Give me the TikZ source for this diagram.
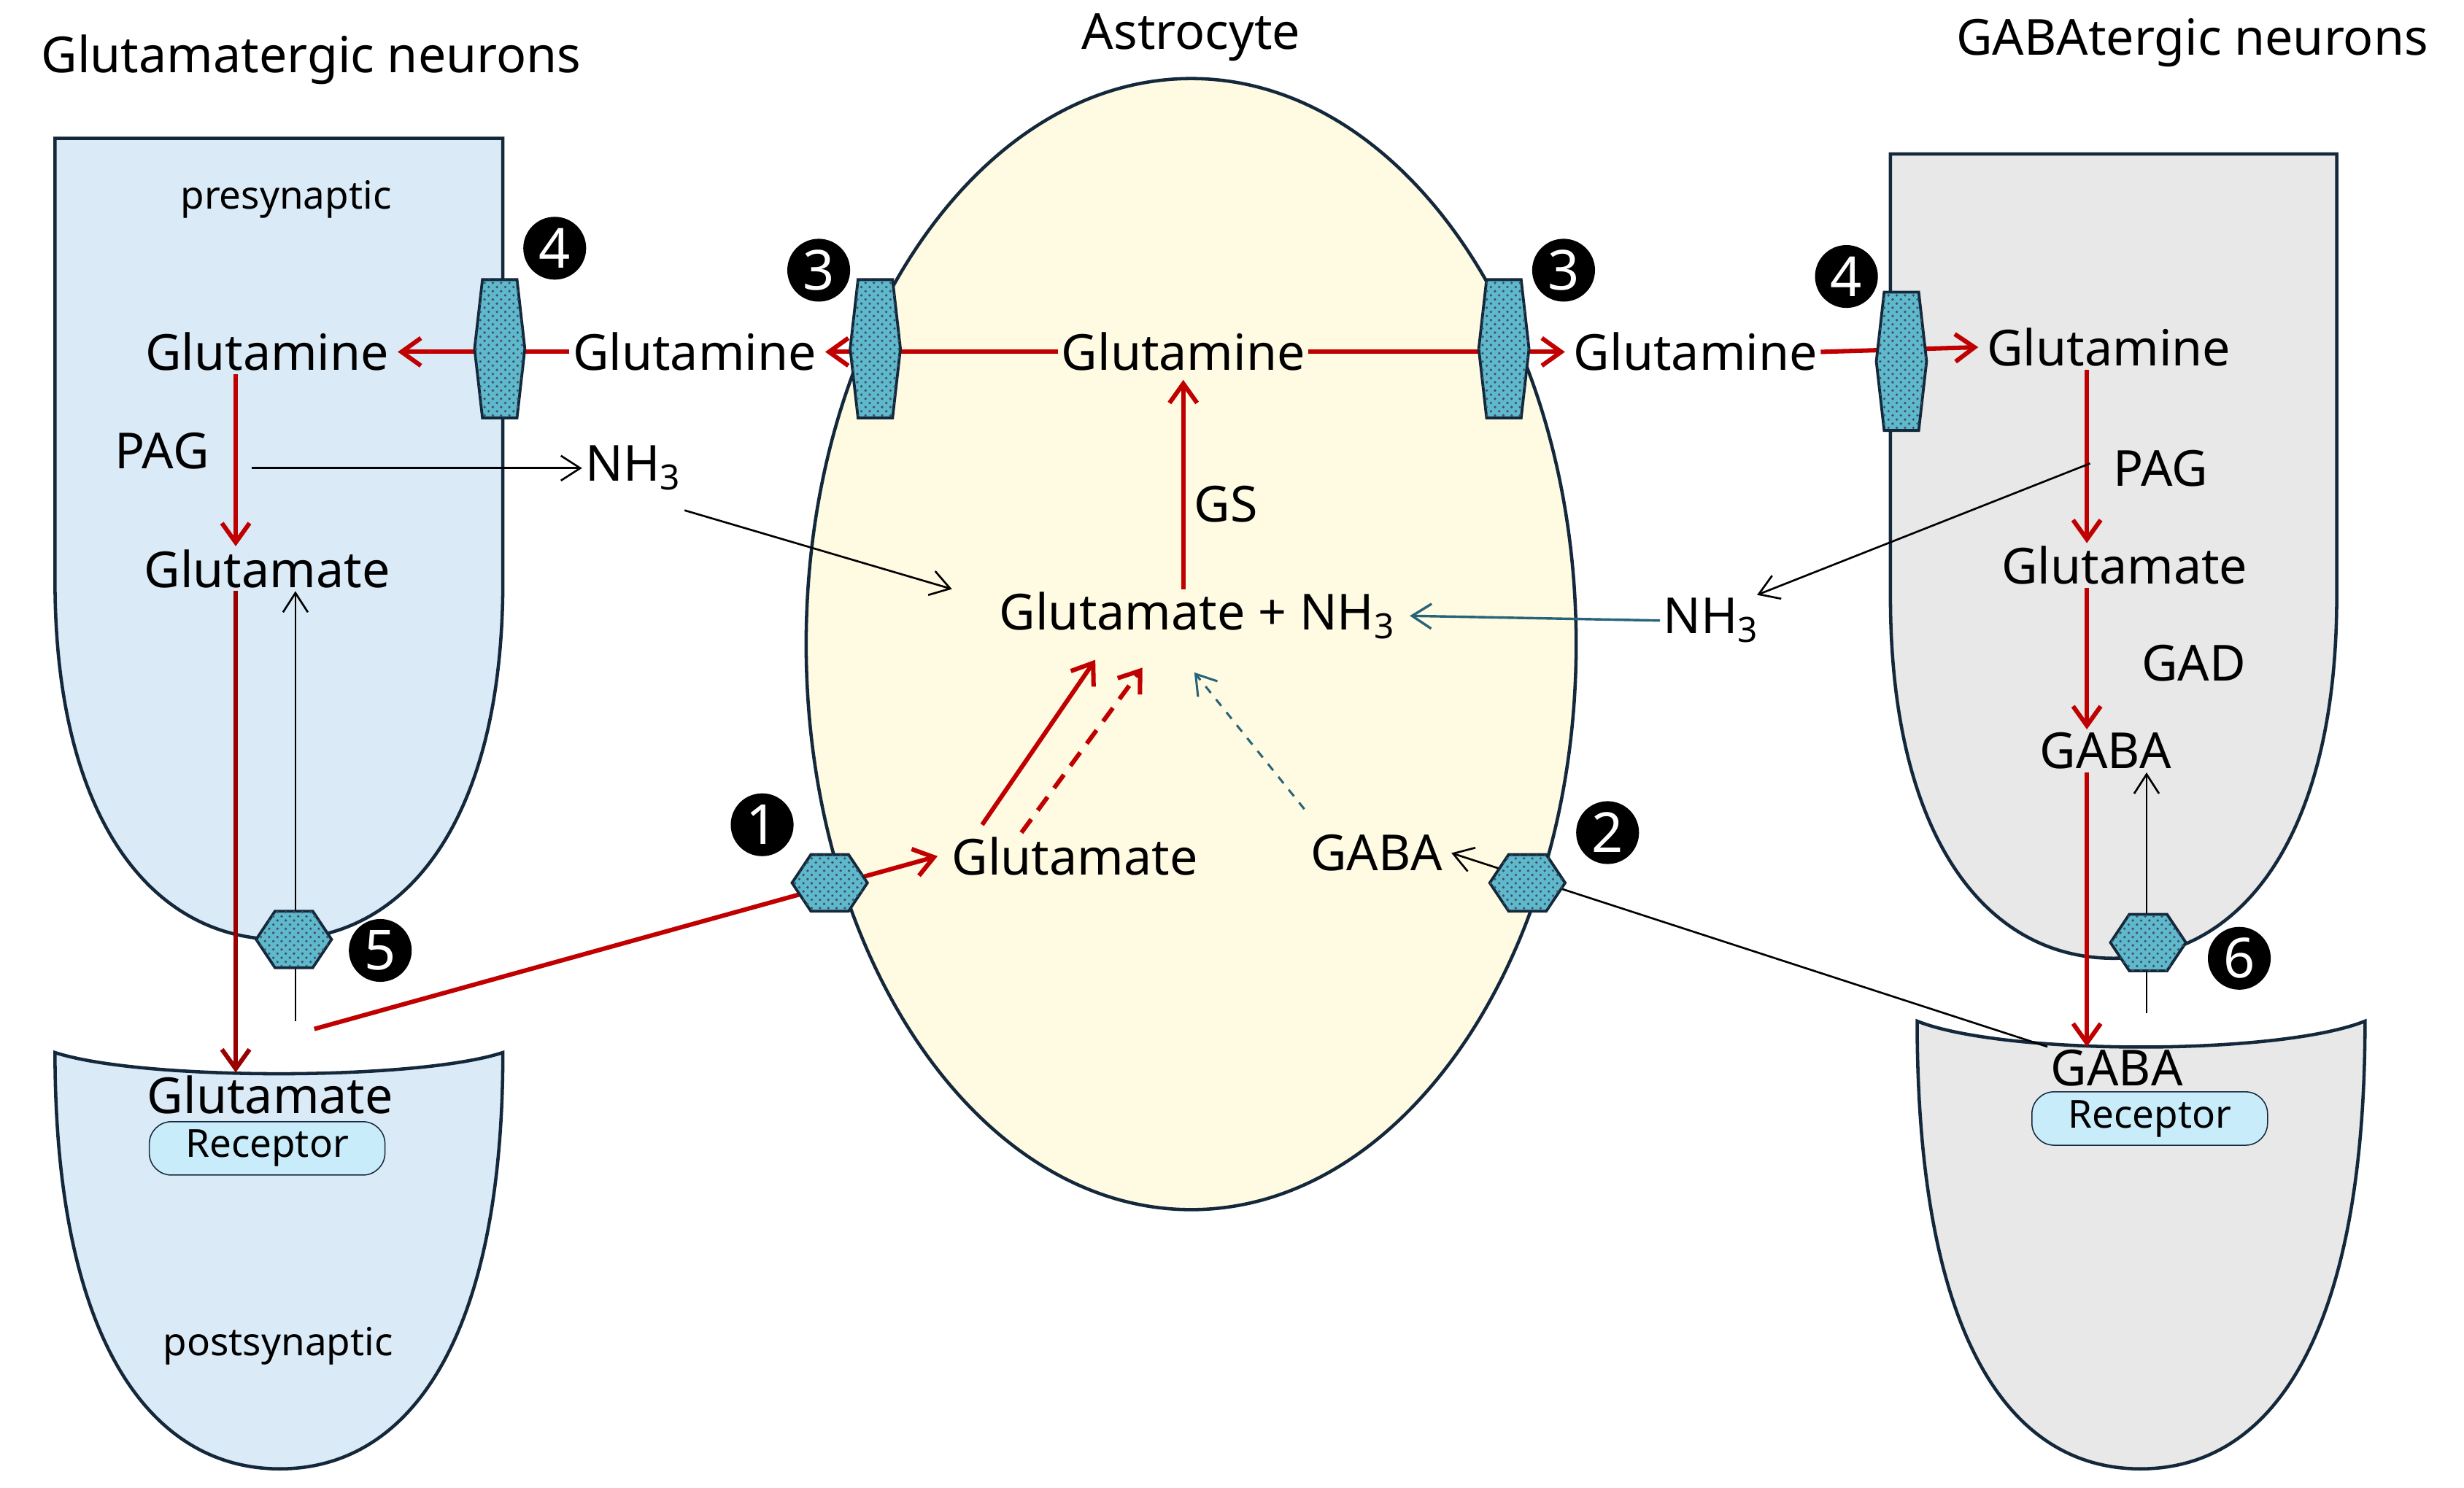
\documentclass[tikz,border=0pt]{standalone}
\usepackage{fontspec}
\setmainfont{Noto Sans}
\usetikzlibrary{arrows.meta,patterns}
\definecolor{arrred}{RGB}{192,0,0}
\definecolor{outl}{RGB}{20,40,60}
\definecolor{cellblue}{RGB}{218,234,247}
\definecolor{cellgray}{RGB}{232,232,232}
\definecolor{astro}{RGB}{255,250,226}
\definecolor{hexfill}{RGB}{95,185,205}
\definecolor{recfill}{RGB}{200,236,250}
\definecolor{tealar}{RGB}{40,100,120}
\tikzset{
  lbl/.style={font=\fontsize{18}{20}\selectfont, inner sep=1pt},
  small/.style={font=\fontsize{14}{16}\selectfont, inner sep=1pt},
  cell/.style={draw=outl, line width=1.2pt},
  red arr/.style={draw=arrred, line width=1.6pt, -{Straight Barb[length=7pt,width=10pt]}},
  thin arr/.style={draw=black, line width=0.7pt, -{Straight Barb[length=7pt,width=9pt]}},
  badge/.style={circle, fill=black, text=white, minimum size=0.8cm, inner sep=0pt, font=\fontsize{20}{20}\selectfont\bfseries},
  receptor/.style={draw=outl, fill=recfill, rounded corners=8pt, minimum width=3cm, minimum height=0.68cm, inner sep=0pt, font=\fontsize{14}{16}\selectfont},
  pics/vhex/.style={code={
    \path[draw=outl, line width=1pt, fill=hexfill] (-11,-44) -- (11,-44) -- (16,0) -- (11,44) -- (-11,44) -- (-16,0) -- cycle;
    \path[pattern=crosshatch dots, pattern color=outl!80] (-11,-44) -- (11,-44) -- (16,0) -- (11,44) -- (-11,44) -- (-16,0) -- cycle;}},
  pics/hhex/.style={code={
    \path[draw=outl, line width=1pt, fill=hexfill] (-24,0) -- (-12,-18) -- (12,-18) -- (24,0) -- (12,18) -- (-12,18) -- cycle;
    \path[pattern=crosshatch dots, pattern color=outl!80] (-24,0) -- (-12,-18) -- (12,-18) -- (24,0) -- (12,18) -- (-12,18) -- cycle;}}
}
\begin{document}
\begin{tikzpicture}[x=0.02cm,y=-0.02cm]
\useasboundingbox (0,0) rectangle (1568,947);
% cells
\draw[cell, fill=cellblue] (35,88) -- (320,88) -- (320,370) .. controls (320,520) and (260,598) .. (178,598) .. controls (96,598) and (35,520) .. (35,370) -- cycle;
\draw[cell, fill=cellblue] (35,670) .. controls (90,688) and (265,688) .. (320,670) .. controls (320,850) and (262,935) .. (178,935) .. controls (94,935) and (35,850) .. cycle;
\draw[cell, fill=cellgray] (1203,98) -- (1487,98) -- (1487,380) .. controls (1487,530) and (1428,610) .. (1345,610) .. controls (1262,610) and (1203,530) .. (1203,380) -- cycle;
\draw[cell, fill=cellgray] (1220,650) .. controls (1275,672) and (1450,672) .. (1505,650) .. controls (1505,850) and (1446,935) .. (1362,935) .. controls (1278,935) and (1220,850) .. cycle;
\draw[cell, fill=astro] (758,410) ellipse [x radius=245, y radius=360];
% titles
\node[lbl] (t1) at (198,38) {Glutamatergic neurons};
\node[lbl] (t2) at (758,24) {Astrocyte};
\node[lbl] (t3) at (1395,27) {GABAtergic neurons};
% left neuron texts
\node[small] (pre) at (182,127) {presynaptic};
\node[lbl] (lgln) at (170,224) {Glutamine};
\node[lbl] (lpag) at (103,287) {PAG};
\node[lbl] (lglu) at (170,362) {Glutamate};
\node[lbl] (lgln2) at (442,224) {Glutamine};
\node[lbl] (lnh) at (403,298) {NH\textsubscript{3}};
\node[lbl] (lsyn) at (172,697) {Glutamate};
\node[receptor] (lrec) at (170,731) {Receptor};
\node[small] (post) at (177,857) {postsynaptic};
% astrocyte texts
\node[lbl] (agln) at (753,224) {Glutamine};
\node[lbl] (gs) at (780,321) {GS};
\node[lbl] (amix) at (762,392) {Glutamate + NH\textsubscript{3}};
\node[lbl] (aglu) at (684,545) {Glutamate};
\node[lbl] (agaba) at (876,543) {GABA};
\node[lbl] (rgln2) at (1079,224) {Glutamine};
% right neuron texts
\node[lbl] (rgln) at (1342,221) {Glutamine};
\node[lbl] (rpag) at (1375,298) {PAG};
\node[lbl] (rglu) at (1352,360) {Glutamate};
\node[lbl] (gad) at (1396,422) {GAD};
\node[lbl] (rgaba) at (1340,478) {GABA};
\node[lbl] (rnh) at (1089,395) {NH\textsubscript{3}};
\node[lbl] (rsyn) at (1347,680) {GABA};
\node[receptor] (rrec) at (1368,712) {Receptor};
% arrows
\draw[red arr] (agln.west) -- ([xshift=2pt]lgln2.east);
\draw[red arr] (lgln2.west) -- ([xshift=2pt]lgln.east);
\draw[red arr] (agln.east) -- ([xshift=-2pt]rgln2.west);
\draw[red arr] (rgln2.east) -- ([xshift=-2pt]rgln.west);
\draw[red arr] (amix.north -| agln.south) -- ([yshift=-2pt]agln.south);
\coordinate (lx) at (150,0);
\draw[red arr] (lgln.south -| lx) -- (lglu.north -| lx);
\draw[red arr, draw=arrred!80!black] (lglu.south -| lx) -- (lsyn.north -| lx);
\coordinate (rx) at (1328,0);
\draw[red arr] (rgln.south -| rx) -- (rglu.north -| rx);
\draw[red arr] (rglu.south -| rx) -- (rgaba.north -| rx);
\draw[red arr] (rgaba.south -| rx) -- (rsyn.north -| rx);
\coordinate (lup0) at (188,650);
\coordinate (rup0) at (1366,645);
\draw[thin arr] (lup0) -- (lglu.south -| lup0);
\draw[thin arr] (rup0) -- (rgaba.south -| rup0);
\coordinate (pag0) at (160,298);
\draw[thin arr] (pag0) -- (pag0 -| lnh.west);
\draw[thin arr] ([yshift=-6pt]lnh.south east) -- ([xshift=-16pt]amix.north west);
\coordinate (rp0) at (1330,295);
\draw[thin arr] (rp0) -- ([xshift=-2pt]rnh.north east);
\draw[line width=0.9pt, draw=tealar, -{Straight Barb[length=7pt,width=9pt]}] (rnh.west) -- ([xshift=4pt]amix.east);
\coordinate (gout) at (200,655);
\draw[red arr] (gout) -- ([xshift=-4pt]aglu.west);
\draw[red arr] (625,525) -- (697,420);
\draw[red arr, dash pattern=on 6pt off 4pt] (650,530) -- (727,425);
\draw[line width=0.8pt, draw=tealar, dashed, -{Straight Barb[length=7pt,width=9pt]}] (830,515) -- (760,428);
\draw[thin arr] (rsyn.north west) -- ([xshift=2pt]agaba.east);
% transporters
\pic at (318,222) {vhex};
\pic at (557,222) {vhex};
\pic at (957,222) {vhex};
\pic at (1210,230) {vhex};
\pic at (528,562) {hhex};
\pic at (187,598) {hhex};
\pic at (972,562) {hhex};
\pic at (1367,600) {hhex};
% badges
\node[badge] (b4a) at (353,158) {4};
\node[badge] (b3a) at (521,172) {3};
\node[badge] (b3b) at (995,172) {3};
\node[badge] (b4b) at (1175,176) {4};
\node[badge] (b1) at (485,525) {1};
\node[badge] (b2) at (1023,530) {2};
\node[badge] (b5) at (242,605) {5};
\node[badge] (b6) at (1425,610) {6};
\end{tikzpicture}
\end{document}
